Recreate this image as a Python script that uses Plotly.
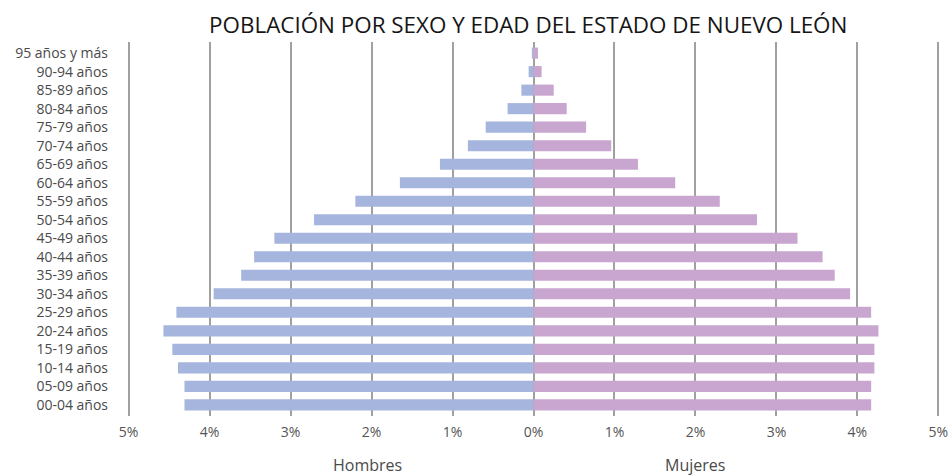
import plotly.graph_objects as go

age_groups = ["00-04 años", "05-09 años", "10-14 años", "15-19 años", "20-24 años",
              "25-29 años", "30-34 años", "35-39 años", "40-44 años", "45-49 años",
              "50-54 años", "55-59 años", "60-64 años", "65-69 años", "70-74 años",
              "75-79 años", "80-84 años", "85-89 años", "90-94 años", "95 años y más"]
hombres = [4.31, 4.31, 4.39, 4.46, 4.57, 4.41, 3.95, 3.61, 3.45, 3.20,
           2.71, 2.20, 1.65, 1.155, 0.81, 0.59, 0.32, 0.15, 0.06, 0.02]
mujeres = [4.17, 4.17, 4.21, 4.21, 4.26, 4.17, 3.91, 3.72, 3.57, 3.26,
           2.76, 2.30, 1.75, 1.29, 0.96, 0.65, 0.41, 0.25, 0.10, 0.055]
tick_vals = [-5, -4, -3, -2, -1, 0, 1, 2, 3, 4, 5]
tick_text = ["5%", "4%", "3%", "2%", "1%", "0%", "1%", "2%", "3%", "4%", "5%"]

FONT = "Open Sans, sans-serif"

fig = go.Figure()
fig.add_trace(go.Bar(y=age_groups, x=[-v for v in hombres], orientation="h",
                     name="Hombres", marker=dict(color="#A6B5DE", line=dict(width=0)),
                     customdata=hombres, hovertemplate="%{y}: %{customdata}%<extra>Hombres</extra>"))
fig.add_trace(go.Bar(y=age_groups, x=mujeres, orientation="h",
                     name="Mujeres", marker=dict(color="#C9A6CF", line=dict(width=0)),
                     hovertemplate="%{y}: %{x}%<extra>Mujeres</extra>"))

fig.update_layout(
    width=957, height=475,
    margin=dict(l=127, r=9, t=42, b=59),
    paper_bgcolor="white", plot_bgcolor="white",
    barmode="overlay", bargap=0.4, showlegend=False,
    font=dict(family=FONT, color="#4a4a4a", size=14),
    title=dict(text="POBLACIÓN POR SEXO Y EDAD DEL ESTADO DE NUEVO LEÓN",
               x=0.552, xanchor="center", y=0.947, yanchor="middle",
               font=dict(family=FONT, size=22.4, color="#151515")),
    xaxis=dict(range=[-5.02, 5.02], tickvals=tick_vals, ticktext=tick_text,
               showgrid=True, gridcolor="#a0a0a0", gridwidth=1.5,
               zeroline=False, showline=False, ticks="", ticklabelstandoff=6,
               tickfont=dict(size=14, color="#555555")),
    yaxis=dict(categoryorder="array", categoryarray=age_groups,
               range=[-0.6, 19.6],
               showgrid=False, zeroline=False, showline=False, ticks="",
               ticklabelstandoff=18, tickfont=dict(size=14, color="#4a4a4a")),
    annotations=[
        dict(text="Hombres", x=-2.05, y=-0.131, xref="x", yref="paper",
             yanchor="middle", showarrow=False, font=dict(size=16, color="#4a4a4a")),
        dict(text="Mujeres", x=2.0, y=-0.131, xref="x", yref="paper",
             yanchor="middle", showarrow=False, font=dict(size=16, color="#4a4a4a")),
    ],
)

fig.write_html(
    "out.html",
    config={"displayModeBar": False},
    post_script=("document.documentElement.style.overflow='hidden';"
                 "document.body.style.margin='0';"
                 "document.body.style.overflow='hidden';"),
)
